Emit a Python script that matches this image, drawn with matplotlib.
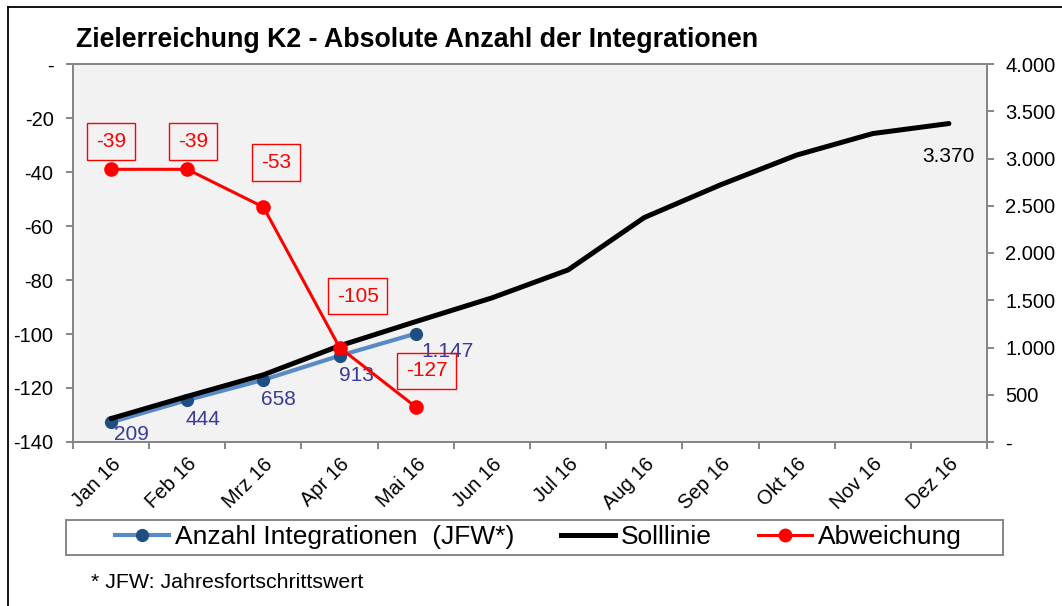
import matplotlib
matplotlib.use('Agg')
import matplotlib.pyplot as plt
from matplotlib.lines import Line2D
from matplotlib.patches import Rectangle
import numpy as np

plt.rcParams['font.family'] = ['Liberation Sans', 'DejaVu Sans']

# Data
MONTHS = ['Jan 16', 'Feb 16', 'Mrz 16', 'Apr 16', 'Mai 16', 'Jun 16',
          'Jul 16', 'Aug 16', 'Sep 16', 'Okt 16', 'Nov 16', 'Dez 16']
IST = [209, 444, 658, 913, 1147]                     # Anzahl Integrationen (JFW*)
SOLL = [248, 483, 711, 1018, 1274, 1525, 1821, 2375, 2721, 3036, 3264, 3370]
ABWEICHUNG = [-39, -39, -53, -105, -127]

# Label offsets in points (as Excel placed them)
IST_OFFSETS = [(15, -9), (11, -14), (11, -14), (12, -14), (23, -13)]
ABW_OFFSETS = [(0, 20), (4, 20), (9, 32), (13, 37), (8, 26)]

COLOR_IST = '#5a8ac6'
COLOR_IST_MARKER = '#1f4e82'
COLOR_IST_TEXT = '#3a3a9a'
COLOR_SOLL = 'black'
COLOR_ABW = '#ff0000'
COLOR_AXIS = '#868686'
COLOR_BG = '#f2f2f2'

W, H = 1062, 606


def de_fmt(v):
    if v == 0:
        return '-'
    return f'{int(v):,}'.replace(',', '.')


fig = plt.figure(figsize=(W / 100, H / 100), dpi=100)
ax = fig.add_axes([73 / W, 1 - 442 / H, (987 - 73) / W, (442 - 64) / H])
ax2 = ax.twinx()

# red series (left axis) drawn above the right-axis series
ax.set_zorder(2)
ax.patch.set_visible(False)
ax2.set_zorder(1)
ax2.patch.set_visible(True)
ax2.patch.set_facecolor(COLOR_BG)

x = np.arange(len(MONTHS))
xi = x[:len(IST)]

ax2.plot(xi, IST, color=COLOR_IST, lw=3.0, marker='o', ms=8.5,
         mfc=COLOR_IST_MARKER, mec=COLOR_IST_MARKER, zorder=2)
ax2.plot(x, SOLL, color=COLOR_SOLL, lw=3.6, solid_capstyle='round', zorder=3)
ax.plot(xi, ABWEICHUNG, color=COLOR_ABW, lw=2.2, marker='o', ms=9.5,
        mfc=COLOR_ABW, mec=COLOR_ABW, zorder=4)

for xv, v, off in zip(xi, IST, IST_OFFSETS):
    ax2.annotate(de_fmt(v), xy=(xv, v), xytext=off, textcoords='offset points',
                 ha='center', va='center', fontsize=15, color=COLOR_IST_TEXT, zorder=5)

ax2.annotate(de_fmt(SOLL[-1]), xy=(x[-1], SOLL[-1]), xytext=(0, -24),
             textcoords='offset points', ha='center', va='center', fontsize=15,
             color='black')

for xv, v, off in zip(xi, ABWEICHUNG, ABW_OFFSETS):
    ax.annotate(str(v), xy=(xv, v), xytext=off, textcoords='offset points',
                ha='center', va='center', fontsize=15, color=COLOR_ABW, zorder=6,
                bbox=dict(boxstyle='square,pad=0.42', fc='none', ec=COLOR_ABW, lw=1.0))

# Axes
ax.set_xlim(-0.5, len(MONTHS) - 0.5)
ax.set_ylim(-140, 0)
ax.set_yticks(np.arange(-140, 1, 20))
ax.set_yticklabels([de_fmt(v) for v in np.arange(-140, 1, 20)])
ax2.set_ylim(0, 4000)
ax2.set_yticks(np.arange(0, 4001, 500))
ax2.set_yticklabels([de_fmt(v) for v in np.arange(0, 4001, 500)])

ax.set_xticks(x)
ax.set_xticklabels(MONTHS, rotation=45, ha='right', va='top',
                   rotation_mode='anchor', fontsize=14.5)
ax.set_xticks(np.arange(-0.5, len(MONTHS)), minor=True)
ax.tick_params(axis='x', which='major', length=0, pad=9)
ax.tick_params(axis='x', which='minor', length=5, width=1.4, color=COLOR_AXIS)
ax.tick_params(axis='y', length=5, width=1.4, color=COLOR_AXIS, labelsize=14.5, pad=9)
ax2.tick_params(axis='y', length=5, width=1.4, color=COLOR_AXIS, labelsize=14.5, pad=8)

for a in (ax, ax2):
    for s in a.spines.values():
        s.set_color(COLOR_AXIS)
        s.set_linewidth(1.4)

# Title
fig.text(76 / W, 1 - 47 / H, 'Zielerreichung K2 - Absolute Anzahl der Integrationen',
         fontsize=19.3, fontweight='bold', ha='left', va='baseline')

# Legend
handles = [
    Line2D([], [], color=COLOR_IST, lw=3.0, marker='o', ms=8.5,
           mfc=COLOR_IST_MARKER, mec=COLOR_IST_MARKER),
    Line2D([], [], color=COLOR_SOLL, lw=3.6),
    Line2D([], [], color=COLOR_ABW, lw=2.2, marker='o', ms=9,
           mfc=COLOR_ABW, mec=COLOR_ABW),
]
labels = ['Anzahl Integrationen  (JFW*)', 'Solllinie', 'Abweichung']
fig.legend(handles, labels, loc='center left', bbox_to_anchor=(115 / W, 1 - 537 / H),
           ncol=3, frameon=False, fontsize=19, borderpad=0, borderaxespad=0,
           handlelength=2.05, handletextpad=0.23, columnspacing=1.75)
fig.add_artist(Rectangle((66 / W, 1 - 555 / H), (1003 - 66) / W, 35 / H,
                         transform=fig.transFigure, fill=False,
                         edgecolor=COLOR_AXIS, lw=1.4))

# Footnote
fig.text(91 / W, 1 - 583 / H, '* JFW: Jahresfortschrittswert', fontsize=15.4,
         ha='left', va='center')

# Outer frame
fig.add_artist(Line2D([8 / W, 8 / W], [0, 1 - 7 / H], transform=fig.transFigure,
                      color='black', lw=1.3))
fig.add_artist(Line2D([8 / W, 1], [1 - 7 / H, 1 - 7 / H], transform=fig.transFigure,
                      color='black', lw=1.3))

fig.savefig('out.png', dpi=100)
